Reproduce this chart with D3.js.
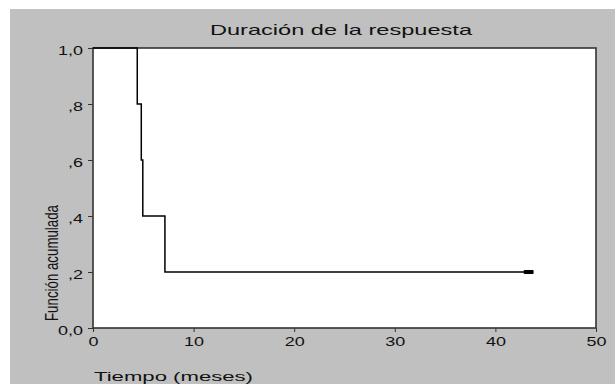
<!DOCTYPE html>
<html><head><meta charset="utf-8">
<script src="https://cdn.jsdelivr.net/npm/d3@7"></script>
<style>body{margin:0;background:#fff;} svg{display:block;}</style>
</head><body>
<svg id="c" width="615" height="384"></svg>
<script>
const title = "Duración de la respuesta";
const xLabel = "Tiempo (meses)";
const yLabel = "Función acumulada";
// step times (months) and survival level after each step
const stepTimes = [0, 4.4, 4.8, 4.95, 7.15];
const stepValues = [1.0, 0.8, 0.6, 0.4, 0.2];
const endTime = 43.3;
const censorTimes = [43.3];
const censorValues = [0.2];
const xTicks = [0, 10, 20, 30, 40, 50];
const yTicks = [0, 0.2, 0.4, 0.6, 0.8, 1.0];
const yTickLabels = ["0,0", ",2", ",4", ",6", ",8", "1,0"];

const svg = d3.select("#c");
svg.append("rect").attr("x",10).attr("y",9).attr("width",605).attr("height",375).attr("fill","#c0c0c0");
const m = {l:93, r:596, t:48, b:328};
const x = d3.scaleLinear().domain([0,50]).range([m.l, m.r]);
const y = d3.scaleLinear().domain([0,1]).range([m.b, m.t]);

svg.append("rect").attr("x",m.l).attr("y",m.t).attr("width",m.r-m.l).attr("height",m.b-m.t)
  .attr("fill","#fff").attr("stroke","#333").attr("stroke-width",1.6);

const font = "'Liberation Sans', Arial, sans-serif";
const sx = 1.5;
const xa = svg.append("g").attr("transform",`translate(0,${m.b})`)
  .call(d3.axisBottom(x).tickValues(xTicks).tickSize(4).tickSizeOuter(0).tickPadding(5));
xa.select(".domain").remove();
xa.selectAll("text").attr("font-family",font).attr("font-size",12).attr("fill","#111")
  .attr("transform",`scale(${sx},1)`).attr("y",9);
xa.selectAll("line").attr("stroke","#333");

const ya = svg.append("g").attr("transform",`translate(${m.l},0)`)
  .call(d3.axisLeft(y).tickValues(yTicks).tickFormat((d,i)=>yTickLabels[i]).tickSize(5).tickSizeOuter(0).tickPadding(5));
ya.select(".domain").remove();
ya.selectAll("text").attr("font-family",font).attr("font-size",12).attr("fill","#111")
  .attr("transform",`scale(${sx},1)`).attr("x",-10/sx).attr("dy","0.5em");
ya.selectAll("line").attr("stroke","#333");

// step line
const pts = [];
stepTimes.forEach((t,i)=>{ pts.push([t, stepValues[i]]); });
pts.push([endTime, stepValues[stepValues.length-1]]);
const line = d3.line().x(d=>x(d[0])).y(d=>y(d[1])).curve(d3.curveStepAfter);
svg.append("path").attr("d", line(pts)).attr("fill","none").attr("stroke","#000").attr("stroke-width",1.5);

svg.selectAll(".cen").data(censorTimes).enter().append("rect")
  .attr("x",(d)=>x(d)-5).attr("y",(d,i)=>y(censorValues[i])-2).attr("width",10).attr("height",4)
  .attr("rx",1).attr("fill","#000");

svg.append("text").attr("x",210).attr("y",35)
  .attr("font-family",font).attr("font-size",15).attr("fill","#111")
  .attr("textLength",262).attr("lengthAdjust","spacingAndGlyphs").text(title);
svg.append("text").attr("x",94).attr("y",381)
  .attr("font-family",font).attr("font-size",13).attr("fill","#111")
  .attr("textLength",159).attr("lengthAdjust","spacingAndGlyphs").text(xLabel);
svg.append("text").attr("transform","translate(58,321) rotate(-90)")
  .attr("font-family",font)
  .attr("font-size",17.5).attr("fill","#111")
  .attr("textLength",116).attr("lengthAdjust","spacingAndGlyphs").text(yLabel);
</script>
</body></html>
